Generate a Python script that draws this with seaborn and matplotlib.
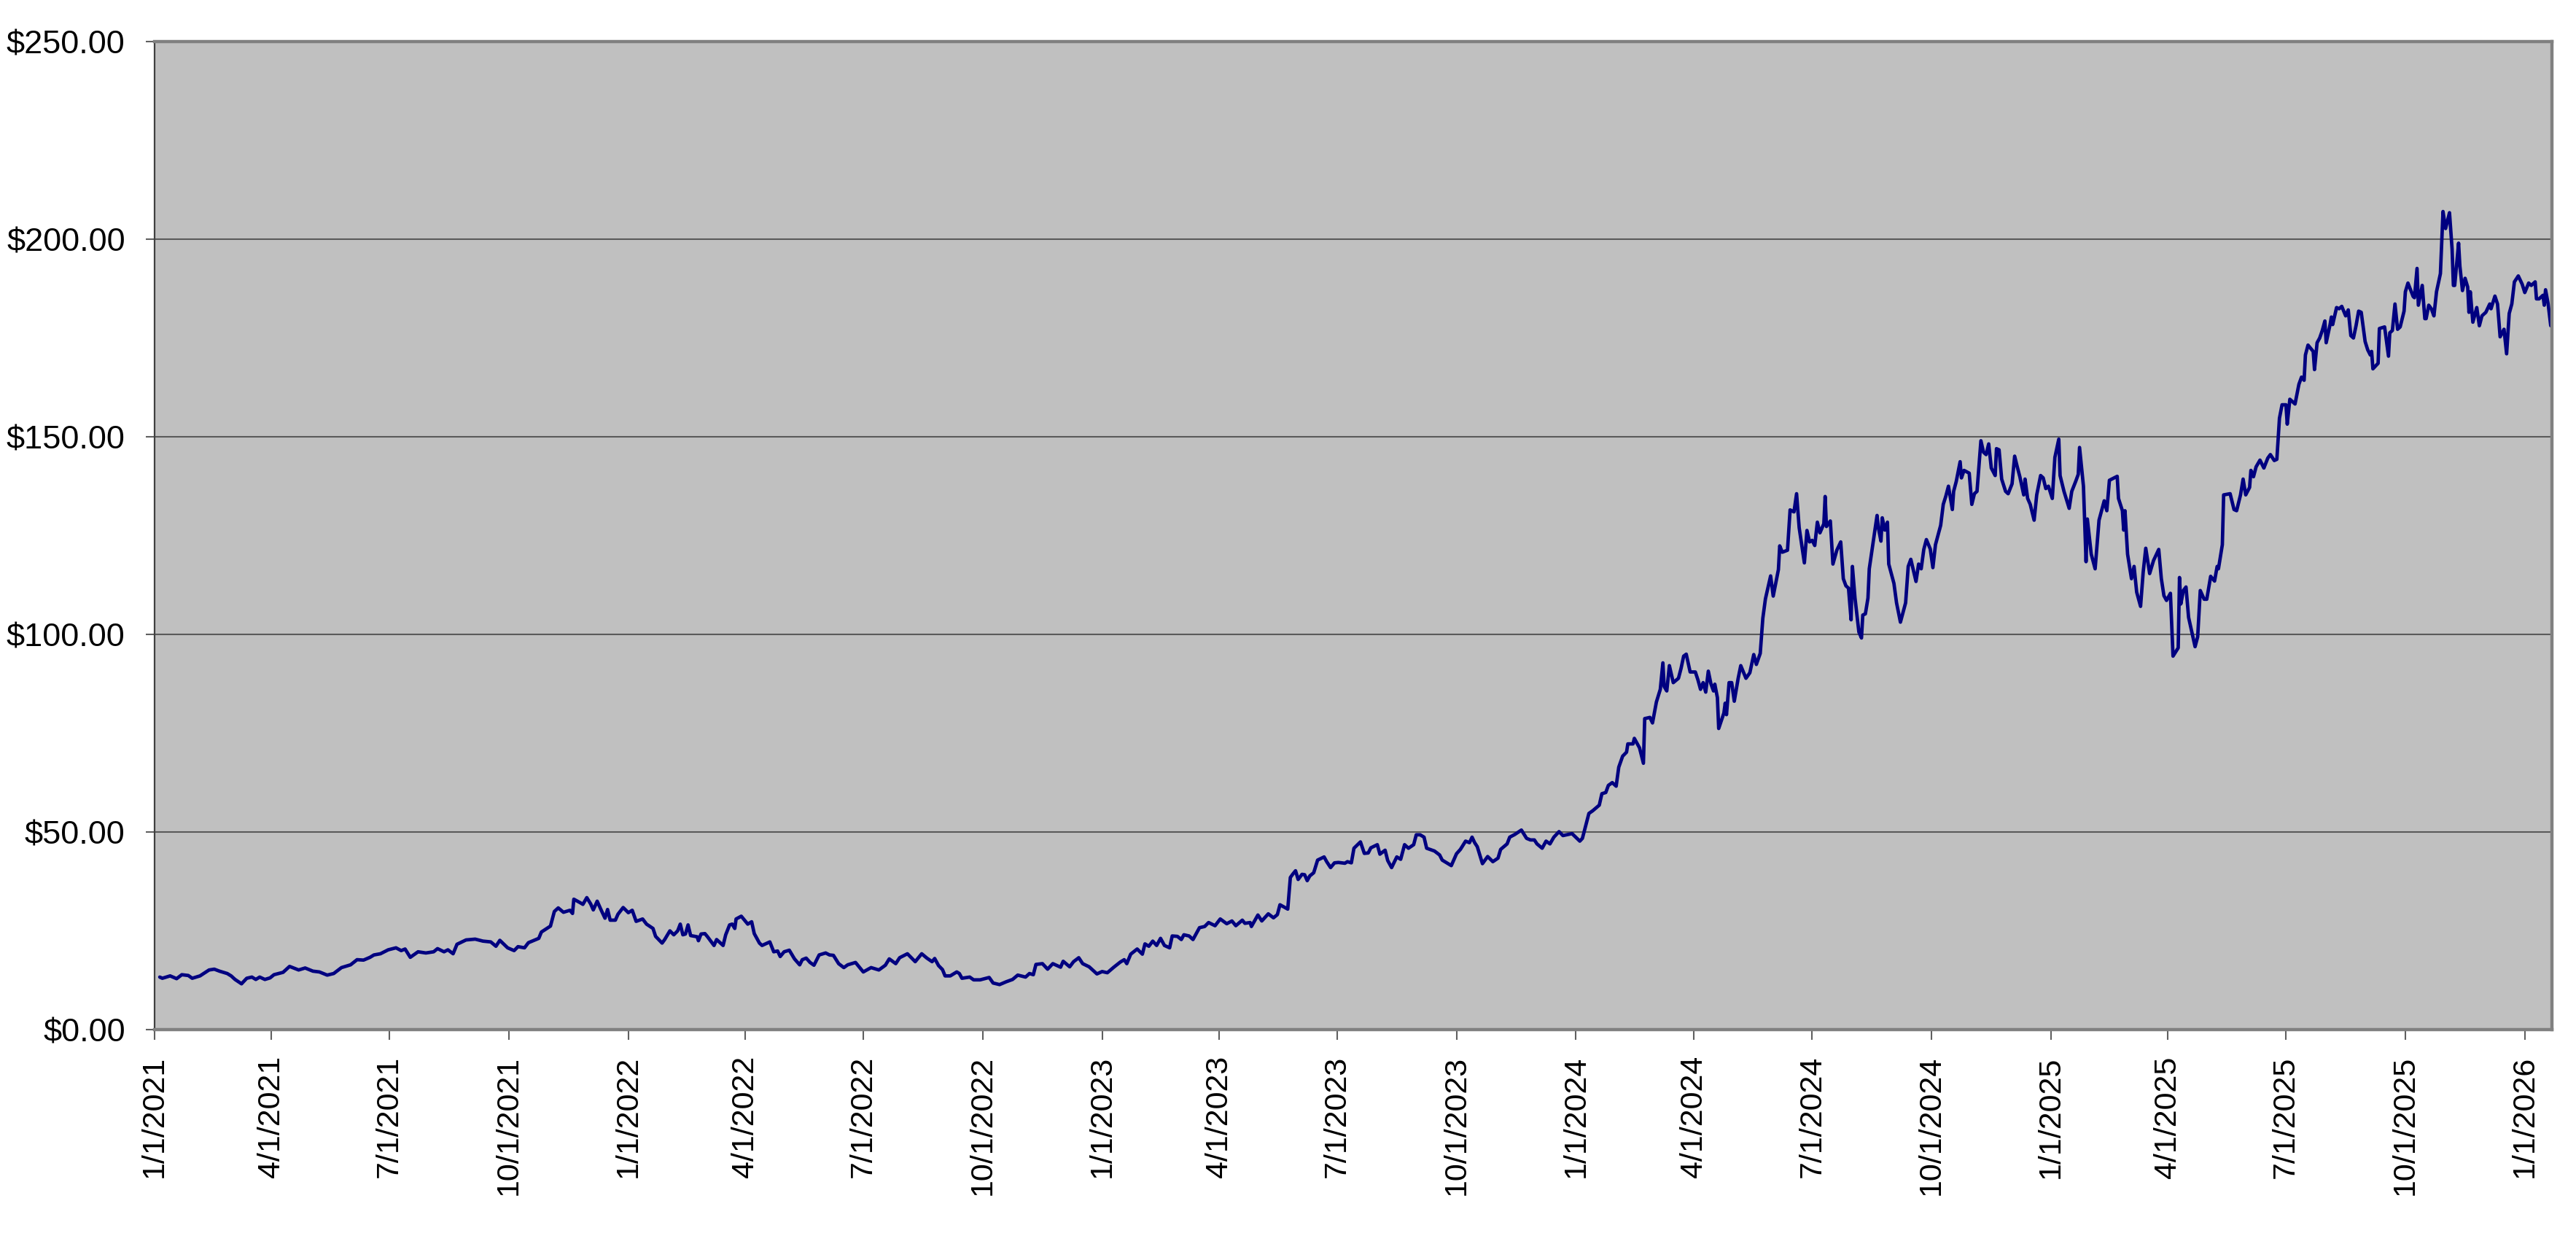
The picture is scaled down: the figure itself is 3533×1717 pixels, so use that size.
import pandas as pd
import matplotlib
matplotlib.use("Agg")
import matplotlib.pyplot as plt
import matplotlib.dates as mdates
from matplotlib.ticker import FuncFormatter, MultipleLocator
import seaborn as sns

# closing prices, x = days after 1/1/2021
days_2021 = [4, 6, 12, 17, 21, 26, 29, 35, 42, 46, 50, 56, 59, 62, 67, 71, 75, 78, 81, 85,
             89, 92, 99, 104, 111, 116, 122, 127, 133, 138, 144, 151, 156, 161, 166, 169, 174,
             180, 186, 190, 193, 197, 203, 209, 215, 218, 223, 226, 230, 233, 240, 247, 253,
             259, 263, 266, 272, 277, 280, 285, 288, 296, 298, 305, 308, 311, 315, 320, 322,
             323, 328, 330, 333, 336, 338, 341, 344, 347, 349, 351, 355, 357, 361]
price_2021 = [13.3, 13.0, 13.6, 12.9, 13.9, 13.7, 13.0, 13.6, 15.1, 15.3, 14.8, 14.2, 13.6,
              12.7, 11.6, 13.0, 13.3, 12.7, 13.3, 12.7, 13.1, 13.9, 14.5, 16.0, 15.1, 15.6,
              14.8, 14.6, 13.8, 14.2, 15.7, 16.4, 17.7, 17.6, 18.3, 18.9, 19.2, 20.2, 20.7,
              20.0, 20.4, 18.3, 19.7, 19.4, 19.7, 20.5, 19.7, 20.2, 19.2, 21.6, 22.7, 22.9,
              22.4, 22.2, 21.1, 22.6, 20.7, 20.0, 21.0, 20.7, 22.0, 23.1, 24.7, 26.2, 29.9,
              30.8, 29.7, 30.2, 29.4, 33.0, 32.1, 31.7, 33.4, 31.8, 30.3, 32.5, 30.3, 28.2,
              30.4, 27.7, 27.7, 29.2, 30.9]

days_2022 = [365, 368, 371, 376, 379, 384, 386, 391, 393, 397, 400, 403, 405, 407, 409, 411,
             413, 418, 419, 421, 424, 426, 431, 433, 438, 440, 443, 445, 447, 448, 452, 457,
             460, 462, 466, 468, 474, 477, 480, 482, 485, 489, 493, 497, 499, 502, 505, 508,
             512, 517, 520, 523, 527, 531, 534, 540, 546, 552, 558, 563, 566, 571, 574, 580,
             586, 591, 595, 599, 601, 604, 607, 609, 613, 618, 620, 622, 628, 631, 636, 643,
             646, 651, 656, 661, 665, 671, 674, 677, 679, 684, 688, 692, 698, 700, 705, 708,
             712, 715, 720, 726]
price_2022 = [29.6, 30.2, 27.4, 28.0, 26.7, 25.6, 23.6, 21.9, 22.8, 25.0, 24.0, 25.0, 26.7,
              24.0, 24.2, 26.5, 23.8, 23.5, 22.5, 24.2, 24.3, 23.5, 21.3, 22.8, 21.3, 24.0,
              26.5, 26.7, 25.6, 28.0, 28.7, 26.7, 27.3, 24.3, 21.9, 21.3, 22.2, 19.7, 19.9,
              18.5, 19.7, 20.1, 17.9, 16.4, 17.7, 18.1, 17.0, 16.3, 18.9, 19.4, 18.9, 18.8,
              16.7, 15.7, 16.4, 17.0, 14.6, 15.7, 15.1, 16.3, 17.9, 16.7, 18.2, 19.2, 17.2,
              19.2, 18.1, 17.2, 18.0, 16.2, 15.2, 13.6, 13.6, 14.6, 14.2, 13.0, 13.3, 12.6,
              12.6, 13.2, 11.8, 11.4, 12.1, 12.7, 13.8, 13.3, 14.2, 13.9, 16.5, 16.7, 15.3,
              16.7, 15.8, 17.3, 15.9, 17.2, 18.2, 16.7, 15.9, 14.1]

days_2023 = [730, 734, 739, 744, 747, 749, 752, 757, 761, 763, 766, 769, 772, 775, 778, 782,
             784, 788, 791, 793, 797, 800, 805, 809, 812, 817, 821, 826, 830, 833, 838, 840,
             844, 845, 850, 853, 858, 862, 865, 867, 873, 875, 877, 879, 881, 884, 886, 888,
             890, 893, 896, 901, 903, 906, 909, 912, 917, 919, 922, 924, 929, 932, 935, 937,
             942, 944, 948, 950, 953, 957, 960, 963, 966, 970, 972, 975, 978, 980, 986, 990,
             992, 999, 1003, 1006, 1010, 1013, 1015, 1017, 1019, 1023, 1027, 1031, 1035,
             1037, 1042, 1044, 1048, 1053, 1057, 1060, 1063, 1065, 1069, 1072, 1075, 1078,
             1082, 1085, 1092]
price_2023 = [14.7, 14.4, 15.8, 17.1, 17.7, 16.7, 19.1, 20.4, 19.1, 21.7, 21.1, 22.4, 21.3,
              23.1, 21.3, 20.7, 23.7, 23.6, 22.8, 24.0, 23.7, 22.8, 25.8, 26.1, 27.1, 26.3,
              28.0, 26.8, 27.5, 26.3, 27.7, 26.9, 27.1, 26.1, 29.0, 27.5, 29.3, 28.3, 29.1,
              31.6, 30.5, 38.5, 39.4, 40.2, 38.0, 39.3, 39.2, 37.7, 38.9, 39.7, 42.9, 43.7,
              42.5, 41.0, 42.2, 42.3, 42.1, 42.5, 42.2, 45.9, 47.5, 44.6, 44.7, 46.0, 46.8,
              44.4, 45.4, 42.8, 41.0, 43.7, 43.1, 46.8, 45.9, 46.8, 49.3, 49.3, 48.7, 45.9,
              45.2, 44.2, 42.9, 41.5, 44.5, 45.6, 47.7, 47.3, 48.7, 47.3, 46.3, 42.0, 43.8,
              42.5, 43.4, 45.6, 47.0, 48.7, 49.4, 50.5, 48.4, 48.0, 48.0, 47.0, 45.9, 47.7,
              47.0, 48.7, 50.1, 49.1, 49.6]

days_2024 = [1098, 1100, 1105, 1108, 1113, 1115, 1118, 1120, 1123, 1126, 1128, 1131, 1134,
             1135, 1139, 1140, 1144, 1147, 1148, 1152, 1154, 1157, 1160, 1162, 1163, 1165,
             1167, 1170, 1174, 1176, 1178, 1180, 1183, 1187, 1189, 1191, 1193, 1195, 1197,
             1199, 1201, 1202, 1204, 1205, 1209, 1210, 1211, 1213, 1215, 1217, 1220, 1222,
             1226, 1229, 1232, 1234, 1237, 1239, 1241, 1245, 1247, 1251, 1252, 1254, 1258,
             1260, 1263, 1265, 1267, 1271, 1273, 1275, 1277, 1279, 1281, 1283, 1286, 1287,
             1288, 1291, 1293, 1296, 1299, 1301, 1303, 1305, 1307, 1308, 1310, 1313, 1315,
             1316, 1318, 1320, 1321, 1324, 1327, 1328, 1330, 1331, 1333, 1335, 1336, 1340,
             1342, 1345, 1349, 1351, 1353, 1357, 1359, 1361, 1363, 1365, 1368, 1370, 1372,
             1376, 1378, 1380, 1382, 1385, 1386, 1388, 1391, 1392, 1394, 1398, 1400, 1402,
             1404, 1407, 1409, 1411, 1413, 1415, 1418, 1419, 1421, 1423, 1426, 1428, 1431,
             1433, 1435, 1437, 1440, 1441, 1443, 1445, 1448, 1450, 1453, 1455, 1457, 1459]
price_2024 = [47.7, 48.4, 54.7, 55.4, 56.8, 59.7, 60.0, 61.8, 62.5, 61.6, 66.4, 69.2, 70.2,
              72.3, 72.3, 73.7, 71.3, 67.4, 78.7, 79.0, 77.6, 82.9, 86.1, 92.8, 86.8, 85.7,
              92.1, 87.8, 88.9, 91.4, 94.5, 95.0, 90.5, 90.5, 88.5, 86.1, 87.8, 85.4, 90.7,
              87.5, 85.7, 87.4, 84.0, 76.2, 80.1, 82.6, 79.7, 87.8, 87.8, 83.1, 88.9, 92.1,
              88.9, 90.3, 94.9, 92.4, 95.2, 104.1, 109.0, 114.8, 109.7, 116.4, 122.4, 120.8,
              121.3, 131.5, 131.0, 135.6, 127.0, 118.1, 126.3, 123.4, 123.8, 122.5, 128.4,
              125.7, 128.0, 134.9, 127.3, 128.7, 117.8, 121.3, 123.4, 114.1, 112.3, 111.7,
              103.7, 117.2, 109.2, 100.6, 99.1, 104.9, 105.2, 109.2, 116.6, 123.3, 130.1,
              127.0, 123.6, 129.5, 126.4, 128.4, 117.8, 112.9, 108.0, 103.1, 108.0, 117.2,
              119.0, 113.4, 117.8, 116.6, 121.5, 124.0, 121.6, 116.9, 122.7, 127.6, 132.9,
              135.0, 137.5, 131.6, 136.2, 138.7, 143.7, 139.6, 141.5, 140.8, 132.9, 135.6,
              136.2, 149.0, 146.1, 145.5, 148.2, 142.1, 140.2, 147.0, 146.7, 139.3, 136.2,
              135.6, 138.1, 145.1, 142.4, 139.9, 135.3, 139.3, 134.4, 132.9, 128.9, 135.3,
              140.2, 139.6, 136.9, 137.5]

days_2025 = [1462, 1464, 1467, 1468, 1471, 1475, 1477, 1480, 1482, 1483, 1486, 1488, 1489,
             1492, 1495, 1498, 1502, 1504, 1506, 1512, 1513, 1516, 1517, 1518, 1520, 1523,
             1525, 1527, 1530, 1532, 1534, 1537, 1540, 1544, 1546, 1548, 1550, 1553, 1555,
             1559, 1560, 1561, 1563, 1565, 1567, 1572, 1574, 1576, 1579, 1581, 1584, 1587,
             1589, 1590, 1593, 1594, 1599, 1602, 1604, 1607, 1609, 1611, 1614, 1615, 1617,
             1619, 1622, 1625, 1628, 1630, 1633, 1635, 1637, 1639, 1642, 1643, 1645, 1649,
             1652, 1654, 1656, 1657, 1659, 1663, 1664, 1666, 1668, 1670, 1672, 1673, 1676,
             1677, 1678, 1681, 1683, 1685, 1688, 1690, 1692, 1694, 1696, 1698, 1700, 1703,
             1705, 1707, 1708, 1709, 1713, 1714, 1718, 1721, 1722, 1724, 1726, 1728, 1730,
             1733, 1734, 1736, 1740, 1741, 1743, 1744, 1747, 1749, 1750, 1752, 1754, 1756,
             1758, 1761, 1763, 1765, 1768, 1770, 1771, 1772, 1775, 1776, 1778, 1780, 1782,
             1783, 1784, 1786, 1789, 1791, 1793, 1796, 1799, 1800, 1803, 1805, 1807, 1810,
             1812, 1814, 1816, 1818, 1821, 1824, 1826, 1829, 1831, 1834, 1835, 1837, 1840,
             1841, 1842, 1844, 1846]
price_2025 = [134.4, 144.8, 149.4, 140.2, 136.2, 131.9, 136.2, 138.7, 140.5, 147.3, 137.5,
              118.4, 129.2, 120.3, 116.6, 128.9, 133.8, 131.3, 139.0, 140.0, 134.4, 131.3,
              126.4, 131.3, 120.3, 114.1, 117.2, 110.7, 107.1, 115.7, 121.8, 115.4, 118.7,
              121.5, 114.1, 109.8, 108.6, 110.4, 94.5, 96.6, 114.4, 107.7, 111.1, 112.0,
              104.3, 96.9, 99.4, 111.1, 108.9, 108.9, 114.7, 113.5, 117.2, 116.6, 122.7,
              135.3, 135.6, 131.6, 131.3, 135.3, 139.3, 135.3, 137.2, 141.5, 139.9, 142.4,
              144.1, 142.1, 144.6, 145.5, 144.0, 144.3, 154.7, 158.1, 158.1, 153.2, 159.5,
              158.3, 163.3, 165.1, 164.3, 170.7, 173.2, 171.6, 167.0, 173.8, 175.0, 176.9,
              179.3, 173.8, 178.4, 180.3, 178.4, 182.7, 182.4, 183.0, 180.6, 182.1, 175.6,
              175.0, 178.1, 181.8, 181.5, 174.1, 172.0, 170.7, 171.6, 167.2, 168.6, 177.4,
              177.8, 170.4, 176.3, 176.9, 183.6, 177.2, 177.8, 181.8, 186.7, 188.9, 185.5,
              185.2, 192.6, 183.3, 188.3, 179.9, 179.9, 183.3, 182.4, 180.6, 186.7, 191.3,
              207.0, 202.7, 206.7, 197.5, 188.3, 188.3, 199.0, 193.2, 187.0, 190.1, 187.9,
              181.5, 186.7, 179.0, 182.7, 178.1, 180.6, 181.5, 183.6, 182.4, 185.6, 183.6,
              175.3, 177.2, 171.0, 181.2, 183.6, 189.2, 190.7, 188.6, 186.5, 188.9, 188.3,
              189.2, 184.9, 184.9, 185.8, 183.3, 187.2, 183.6, 178.1]

start = pd.Timestamp("2021-01-01")
days = days_2021 + days_2022 + days_2023 + days_2024 + days_2025
prices = price_2021 + price_2022 + price_2023 + price_2024 + price_2025
df = pd.DataFrame({"date": start + pd.to_timedelta(days, unit="D"), "price": prices})

sns.set_theme(style="ticks")
plt.rcParams["font.family"] = ["Liberation Sans", "DejaVu Sans"]

fig = plt.figure(figsize=(35.33, 17.17), dpi=100)
ax = fig.add_axes([0.060, 0.1776, 0.9307, 0.7892])
ax.set_facecolor("#c0c0c0")

sns.lineplot(data=df, x="date", y="price", ax=ax, color="#000080", linewidth=3.4)

ax.set_ylim(0, 250)
ax.yaxis.set_major_locator(MultipleLocator(50))
ax.yaxis.set_major_formatter(FuncFormatter(lambda v, p: f"${v:,.2f}"))
ax.set_xlim(start, start + pd.Timedelta(days=1847))
ax.xaxis.set_major_locator(mdates.MonthLocator(bymonth=[1, 4, 7, 10], bymonthday=1))
ax.xaxis.set_major_formatter(FuncFormatter(
    lambda v, p: (lambda d: f"{d.month}/{d.day}/{d.year}")(mdates.num2date(v))))

ax.grid(axis="y", color="#5a5a5a", linewidth=1.5)
ax.grid(axis="x", visible=False)
ax.set_axisbelow(True)

ax.spines["left"].set_color("#404040")
ax.spines["left"].set_linewidth(1.6)
for side in ["top", "right", "bottom"]:
    ax.spines[side].set_color("#808080")
    ax.spines[side].set_linewidth(3.2)

ax.tick_params(axis="y", direction="out", length=9, width=1.5, color="#606060",
               labelsize=32.5, labelcolor="black", pad=20)
ax.tick_params(axis="x", direction="out", length=10, width=1.5, color="#606060",
               labelsize=31, labelcolor="black", pad=16, labelrotation=90)

ax.set_xlabel("")
ax.set_ylabel("")

fig.savefig("out.png", dpi=100)
